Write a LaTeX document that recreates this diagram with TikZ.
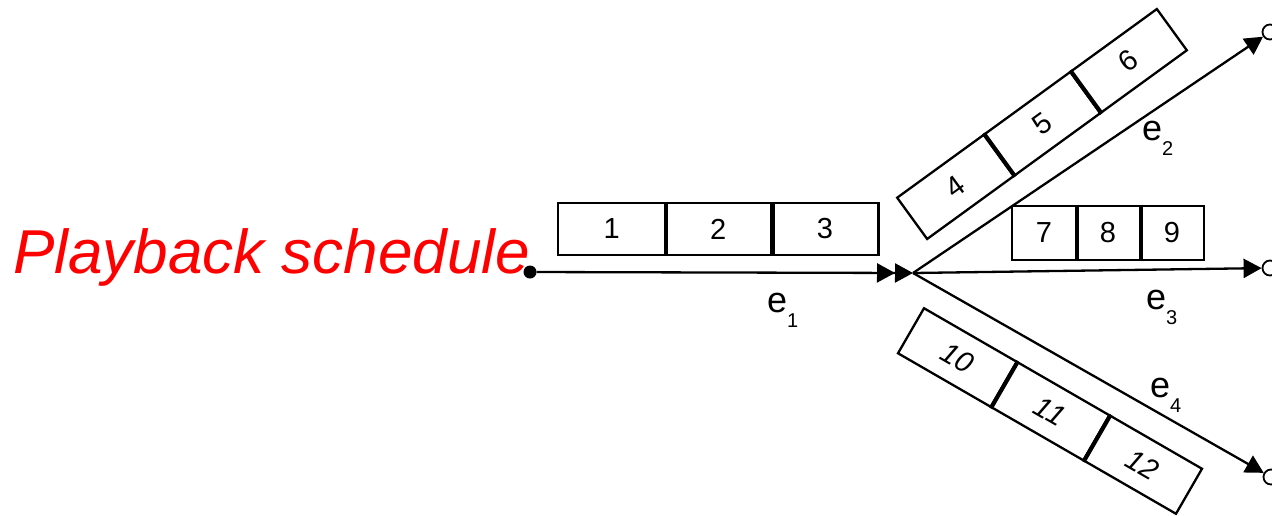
\documentclass[tikz,border=0pt]{standalone}
\usepackage{fontspec}
\setmainfont{Liberation Sans}
\usetikzlibrary{arrows.meta}
\begin{document}
\begin{tikzpicture}[x=1pt,y=-1pt,
  cell/.style={draw, line width=2.3pt, minimum width=107pt, minimum height=52pt, inner sep=0pt, font=\fontsize{29}{29}\selectfont},
  smallcell/.style={cell, minimum width=64pt, minimum height=54pt},
  edge/.style={line width=2.3pt, -{Triangle[length=18pt,width=19pt]}},
  dbl/.style={line width=2.3pt, -{Triangle[length=18pt,width=19pt]Triangle[length=18pt,width=19pt]}},
  div/.style={line width=3.6pt},
  endpt/.style={circle, draw, line width=1.8pt, minimum size=15pt, inner sep=0pt, fill=white},
  lbl/.style={anchor=base west, inner sep=0pt, font=\fontsize{36}{36}\selectfont}]
\useasboundingbox (0,0) rectangle (1272,515);

% box 1-2-3
\node[cell] (c1) at (611.7,229) {1};
\node[cell] (c2) at (718.3,229) {2};
\node[cell] (c3) at (825,229) {3};
\draw[div] (c1.north east) -- (c1.south east);
\draw[div] (c2.north east) -- (c2.south east);

% box 7-8-9
\node[smallcell] (c7) at (1044,233) {7};
\node[smallcell] (c8) at (1108,233) {8};
\node[smallcell] (c9) at (1172,233) {9};
\draw[div] (c7.north east) -- (c7.south east);
\draw[div] (c8.north east) -- (c8.south east);

% box 4-5-6
\begin{scope}[shift={(1042,124)}, rotate=36, transform shape]
  \node[cell, minimum height=51pt] (c4) at (-107,0) {4};
  \node[cell, minimum height=51pt] (c5) at (0,0) {5};
  \node[cell, minimum height=51pt] (c6) at (107,0) {6};
  \draw[div] (c4.north east) -- (c4.south east);
  \draw[div] (c5.north east) -- (c5.south east);
\end{scope}

% box 10-11-12
\begin{scope}[shift={(1050,411)}, rotate=-30, transform shape]
  \node[cell, font=\fontsize{29}{29}\selectfont\itshape] (c10) at (-107,0) {10};
  \node[cell, font=\fontsize{29}{29}\selectfont\itshape] (c11) at (0,0) {11};
  \node[cell, font=\fontsize{29}{29}\selectfont\itshape] (c12) at (107,0) {12};
  \draw[div] (c10.north east) -- (c10.south east);
  \draw[div] (c11.north east) -- (c11.south east);
\end{scope}

% edges
\coordinate (hub) at (913,273);
\node[circle, fill, inner sep=0pt, minimum size=13pt] (src) at (530,272) {};
\node[endpt] (n2) at (1270,32) {};
\node[endpt] (n3) at (1270,268) {};
\node[endpt] (n4) at (1271,477) {};
\draw[dbl] (src) -- (hub);
\draw[edge] (hub) -- (n2);
\draw[edge] (hub) -- (n3);
\draw[edge] (hub) -- (n4);

% labels
\node[lbl] (l1) at (767,312) {e\raisebox{-15pt}{\fontsize{20}{20}\selectfont 1}};
\node[lbl] (l2) at (1142,140) {e\raisebox{-15pt}{\fontsize{20}{20}\selectfont 2}};
\node[lbl] (l3) at (1146,309) {e\raisebox{-15pt}{\fontsize{20}{20}\selectfont 3}};
\node[lbl] (l4) at (1150,397) {e\raisebox{-15pt}{\fontsize{20}{20}\selectfont 4}};

% title
\node[anchor=base west, inner sep=0pt, text=red, font=\fontsize{62}{62}\selectfont\itshape] (title) at (13,273) {Playback schedule};
\end{tikzpicture}
\end{document}
